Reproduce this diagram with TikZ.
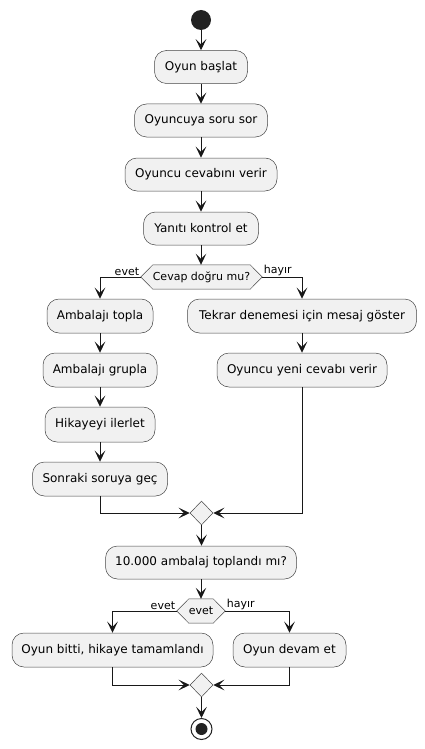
\documentclass[tikz,border=0pt]{standalone}
\usepackage{fontspec}
\setmainfont{DejaVu Sans}
\usetikzlibrary{arrows.meta,shapes.geometric,calc}
\definecolor{boxfill}{HTML}{F1F1F1}
\definecolor{ink}{HTML}{181818}
\definecolor{dot}{HTML}{222222}
\tikzset{
  act/.style={draw=ink!80, line width=0.5pt, fill=boxfill, rounded corners=12pt, inner sep=0pt, font=\fontsize{12}{14}\selectfont, text=black},
  hexnode/.style={inner sep=0pt, font=\fontsize{11}{13}\selectfont, text=black, minimum height=24pt},
  merge/.style={diamond, draw=ink!80, line width=0.5pt, fill=boxfill, inner sep=0pt, minimum width=23pt, minimum height=24pt},
  arr/.style={draw=ink, line width=1pt, -{Stealth[length=11pt,width=10.5pt,inset=5pt]}},
  lbl/.style={font=\fontsize{11}{13}\selectfont, inner sep=1.5pt, text=black},
}
\newcommand{\hexdraw}[1]{\draw[draw=ink!80, line width=0.5pt, fill=boxfill] (#1.west) -- ([xshift=12pt]#1.north west) -- ([xshift=-12pt]#1.north east) -- (#1.east) -- ([xshift=-12pt]#1.south east) -- ([xshift=12pt]#1.south west) -- cycle;}
\begin{document}
\begin{tikzpicture}[x=1pt,y=-1pt]
\useasboundingbox (0,0) rectangle (425,749);
% start
\node[circle, fill=dot, minimum size=20pt, inner sep=0pt] (start) at (201,20) {};
\node[act, minimum width=93pt, minimum height=33pt] (b1) at (201,67) {Oyun başlat};
\node[act, minimum width=133pt, minimum height=33pt] (b2) at (201,120.5) {Oyuncuya soru sor};
\node[act, minimum width=152pt, minimum height=33pt] (b3) at (201,174.5) {Oyuncu cevabını verir};
\node[act, minimum width=115pt, minimum height=33pt] (b4) at (201,228.5) {Yanıtı kontrol et};
% decision 1
\node[hexnode, minimum width=121pt] (d1) at (201.5,277) {};
\hexdraw{d1}
\node[hexnode] at (d1) {Cevap doğru mu?};
\node[act, minimum width=106pt, minimum height=34pt] (a1) at (100,316) {Ambalajı topla};
\node[act, minimum width=114pt, minimum height=34pt] (a2) at (100,370) {Ambalajı grupla};
\node[act, minimum width=110pt, minimum height=35pt] (a3) at (100,424.5) {Hikayeyi ilerlet};
\node[act, minimum width=135pt, minimum height=34pt] (a4) at (100,479) {Sonraki soruya geç};
\node[act, minimum width=229pt, minimum height=34pt] (t1) at (302,316) {Tekrar denemesi için mesaj göster};
\node[act, minimum width=170pt, minimum height=34pt] (t2) at (302,370) {Oyuncu yeni cevabı verir};
\node[merge] (m1) at (201.5,513) {};
\node[act, minimum width=191pt, minimum height=33pt] (q) at (201,562.5) {10.000 ambalaj toplandı mı?};
% decision 2
\node[hexnode, minimum width=48pt] (d2) at (201,611) {};
\hexdraw{d2}
\node[hexnode] at (d2) {evet};
\node[act, minimum width=201pt, minimum height=34pt] (e1) at (112.5,650) {Oyun bitti, hikaye tamamlandı};
\node[act, minimum width=113pt, minimum height=34pt] (e2) at (289.5,650) {Oyun devam et};
\node[merge] (m2) at (201.5,685) {};
\node[circle, draw=dot, line width=1pt, fill=white, minimum size=21pt, inner sep=0pt] (end) at (201.5,729) {};
\node[circle, fill=dot, minimum size=12pt, inner sep=0pt] at (end) {};
% connectors
\draw[arr] (start) -- (b1);
\draw[arr] (b1) -- (b2);
\draw[arr] (b2) -- (b3);
\draw[arr] (b3) -- (b4);
\draw[arr] (b4.south) -- (b4.south |- d1.north);
\draw[arr] (d1.west) -| (a1.north);
\node[lbl, anchor=south east] at (d1.west) {evet};
\draw[arr] (d1.east) -| (t1.north);
\node[lbl, anchor=south west] at (d1.east) {hayır};
\draw[arr] (a1) -- (a2);
\draw[arr] (a2) -- (a3);
\draw[arr] (a3) -- (a4);
\draw[arr] (t1) -- (t2);
\draw[arr] (a4.south) |- (m1.west);
\draw[arr] (t2.south) |- (m1.east);
\draw[arr] (m1.south) -- (m1.south |- q.north);
\draw[arr] (q.south) -- (q.south |- d2.north);
\draw[arr] (d2.west) -| (e1.north);
\node[lbl, anchor=south east] at (d2.west) {evet};
\draw[arr] (d2.east) -| (e2.north);
\node[lbl, anchor=south west] at (d2.east) {hayır};
\draw[arr] (e1.south) |- (m2.west);
\draw[arr] (e2.south) |- (m2.east);
\draw[arr] (m2.south) -- (end.north);
\end{tikzpicture}
\end{document}
